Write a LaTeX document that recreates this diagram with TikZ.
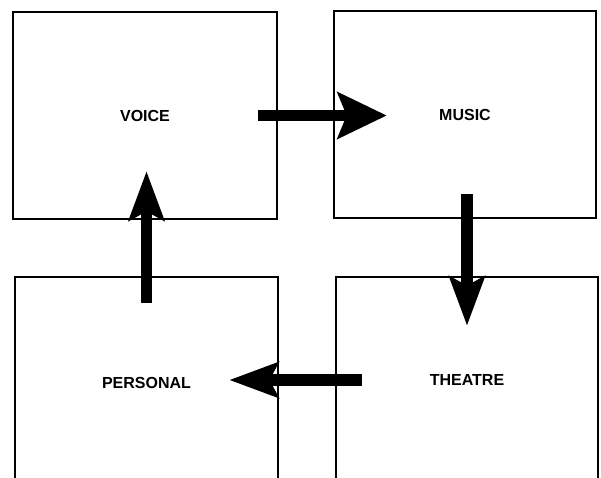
\documentclass[tikz,border=0pt]{standalone}
\usepackage{fontspec}
\setmainfont{Liberation Sans}
\usepackage{tikz}
\usetikzlibrary{calc,arrows.meta}

\begin{document}
\begin{tikzpicture}[x=1pt,y=-1pt,
  area/.style={draw, line width=2.5pt, font=\bfseries\fontsize{16}{19}\selectfont, inner sep=0pt},
  bigarrow/.style={line width=11.5pt, -{Stealth[length=49pt,width=#1,inset=9pt]}},
  bigarrow/.default=35pt]
  \useasboundingbox (0,0) rectangle (601,478);
  \clip (0,0) rectangle (601,478);
  % 四つの枠
  \node[area, minimum width=264pt, minimum height=207pt] (voice) at (145,115.5) {VOICE};
  \node[area, minimum width=262pt, minimum height=207pt] (music) at (465,114.5) {MUSIC};
  \node[area, minimum width=263pt, minimum height=212pt] (personal) at (146.5,383) {PERSONAL};
  \node[area, minimum width=262pt, minimum height=206pt] (theatre) at (467,380) {THEATRE};
  % 矢印: 時計回り
  \draw[bigarrow=46pt] ($(voice.east)+(-20,0)$) -- ($(voice.east -| music.west)+(54,0)$);
  \draw[bigarrow] ($(music.south -| theatre.north)+(0,-25)$) -- ($(theatre.north)+(0,50)$);
  \draw[bigarrow] ($(theatre.west)+(27,0)$) -- ($(theatre.west -| personal.east)+(-50,0)$);
  \draw[bigarrow] ($(personal.north)+(0,27)$) -- ($(voice.south -| personal.north)+(0,-49)$);
\end{tikzpicture}
\end{document}
